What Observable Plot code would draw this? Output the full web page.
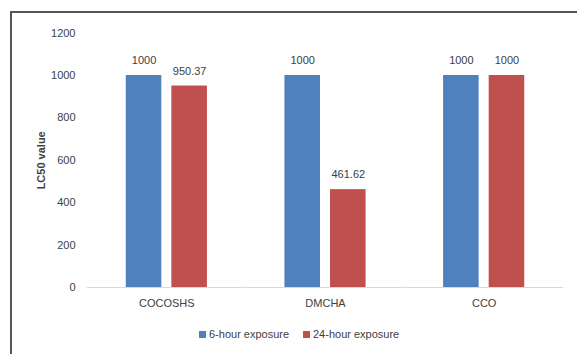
<!DOCTYPE html>
<html>
<head>
<meta charset="utf-8">
<script src="https://cdn.jsdelivr.net/npm/d3@7"></script>
<script src="https://cdn.jsdelivr.net/npm/@observablehq/plot@0.6"></script>
<style>
  html, body { margin: 0; padding: 0; background: #fff; overflow: hidden; width: 577px; height: 354px; }
  #frame { position: absolute; left: 10px; top: 11px; width: 620px; height: 400px; border: 2px solid #555; box-sizing: border-box; }
  #chart { position: absolute; left: 0; top: 0; }
  #legend { position: absolute; top: 328px; left: 0; width: 577px; font: 11px "Liberation Sans", sans-serif; color: #404040; }
  .item { position: absolute; display: flex; align-items: center; white-space: nowrap; }
  .sw { width: 7px; height: 7px; margin-right: 3px; display: inline-block; }
</style>
</head>
<body>
<div id="frame"></div>
<div id="chart"></div>
<div id="legend"></div>
<script>
const categories = ["COCOSHS", "DMCHA", "CCO"];
const series = ["6-hour exposure", "24-hour exposure"];
const values6h = [1000, 1000, 1000];
const values24h = [950.37, 461.62, 1000];
const colors = ["#4F81BD", "#C0504D"];
const yTicks = [0, 200, 400, 600, 800, 1000, 1200];

const data = [];
categories.forEach((c, i) => {
  data.push({category: c, series: series[0], value: values6h[i]});
  data.push({category: c, series: series[1], value: values24h[i]});
});

const chart = Plot.plot({
  width: 577,
  height: 318,
  marginLeft: 87,
  marginRight: 14,
  marginTop: 32.6,
  marginBottom: 31,
  style: {fontFamily: "Liberation Sans, sans-serif", fontSize: "11px", color: "#404040", background: "transparent"},
  fx: {domain: categories, padding: 0, round: false, label: null, tickSize: 0, tickPadding: 12, axis: "bottom"},
  x: {domain: series, paddingInner: 0.22, paddingOuter: 0.85, round: false, axis: null},
  y: {domain: [0, 1200], ticks: yTicks, tickSize: 0, tickPadding: 12, label: "LC50 value", labelArrow: "none", labelAnchor: "center", labelOffset: 50, tickFormat: d => String(d)},
  color: {domain: series, range: colors},
  marks: [
    Plot.ruleY([0], {stroke: "#d9d9d9", strokeWidth: 1}),
    Plot.barY(data, {fx: "category", x: "series", y: "value", fill: "series"}),
    Plot.text(data, {fx: "category", x: "series", y: "value", text: d => String(d.value), dy: -15, fill: "#404040", fontSize: 11})
  ]
});
document.getElementById("chart").appendChild(chart);
// bold y label, strip any arrow
chart.querySelectorAll("g[aria-label='y-axis label']").forEach(g => {
  g.setAttribute("font-weight", "bold");
  g.querySelectorAll("text").forEach(t => { t.textContent = t.textContent.replace(/\s*[↑→]\s*/g, "").trim(); });
});

const legend = document.getElementById("legend");
const lefts = [199, 303];
series.forEach((s, i) => {
  const it = document.createElement("div");
  it.className = "item";
  it.style.left = lefts[i] + "px";
  const sw = document.createElement("span");
  sw.className = "sw";
  sw.style.background = colors[i];
  it.appendChild(sw);
  it.appendChild(document.createTextNode(s));
  legend.appendChild(it);
});
</script>
</body>
</html>
